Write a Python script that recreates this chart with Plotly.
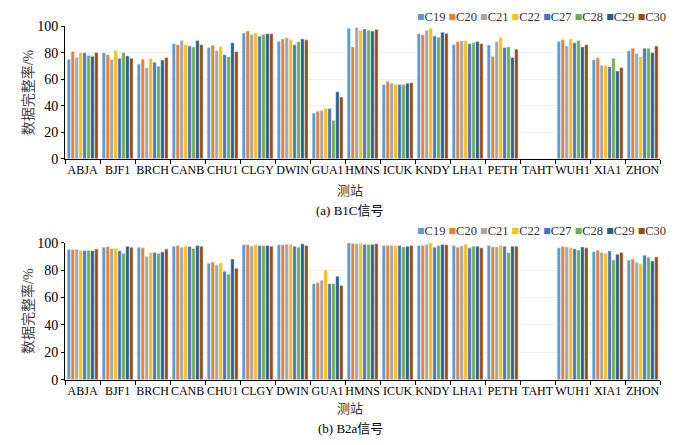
import plotly.graph_objects as go

# Data
stations = ["ABJA", "BJF1", "BRCH", "CANB", "CHU1", "CLGY", "DWIN", "GUA1", "HMNS", "ICUK",
            "KNDY", "LHA1", "PETH", "TAHT", "WUH1", "XIA1", "ZHON"]
satellites = ["C19", "C20", "C21", "C22", "C27", "C28", "C29", "C30"]

# B1C completeness (%), one list per satellite, in station order
b1c = {
    "C19": [75.2, 80.0, 71.6, 86.9, 84.0, 94.9, 88.6, 34.5, 98.5, 56.0, 94.4, 86.2, 85.9, 0, 88.6, 74.8, 81.6],
    "C20": [81.0, 78.6, 75.2, 86.2, 85.7, 96.4, 90.5, 35.9, 84.5, 58.3, 93.7, 88.6, 77.4, 0, 89.8, 76.2, 83.5],
    "C21": [76.5, 75.0, 68.7, 89.3, 81.6, 93.7, 91.3, 36.4, 99.0, 57.0, 96.8, 89.0, 88.6, 0, 85.2, 70.4, 79.4],
    "C22": [80.0, 81.8, 75.7, 86.2, 84.7, 94.9, 89.8, 38.1, 96.8, 56.3, 98.5, 89.3, 91.5, 0, 90.5, 70.4, 77.0],
    "C27": [80.0, 76.0, 72.8, 85.2, 78.6, 92.5, 86.2, 37.9, 98.0, 56.0, 92.7, 86.9, 84.0, 0, 87.6, 69.4, 83.5],
    "C28": [78.0, 80.3, 69.9, 84.5, 77.0, 93.9, 88.3, 29.1, 97.0, 56.0, 91.7, 87.6, 84.5, 0, 89.3, 76.0, 83.5],
    "C29": [77.4, 77.7, 74.5, 89.3, 87.6, 94.4, 90.5, 50.7, 96.4, 57.0, 95.6, 88.6, 76.5, 0, 84.5, 66.3, 80.1],
    "C30": [80.3, 76.0, 76.5, 86.2, 81.0, 94.4, 89.8, 46.6, 97.6, 57.5, 94.7, 86.9, 82.8, 0, 86.2, 68.9, 85.2],
}

# B2a completeness (%)
b2a = {
    "C19": [95.0, 96.7, 96.7, 97.4, 84.9, 98.4, 98.4, 70.1, 99.8, 97.9, 97.9, 97.9, 97.9, 0, 96.2, 93.4, 87.3],
    "C20": [95.0, 97.2, 96.2, 97.9, 85.9, 98.4, 98.4, 70.8, 99.3, 97.9, 97.9, 96.7, 96.9, 0, 97.2, 94.4, 88.0],
    "C21": [95.0, 95.8, 90.1, 96.7, 83.8, 97.6, 98.8, 72.5, 99.1, 97.9, 98.6, 97.6, 96.9, 0, 96.9, 92.9, 85.6],
    "C22": [94.1, 95.8, 92.9, 97.6, 85.2, 98.4, 98.6, 80.0, 99.3, 97.9, 99.8, 98.8, 98.1, 0, 96.2, 92.2, 84.5],
    "C27": [94.1, 94.1, 92.9, 97.2, 79.1, 97.9, 97.4, 70.1, 98.6, 97.9, 96.7, 96.2, 97.4, 0, 95.5, 93.9, 90.8],
    "C28": [94.4, 92.2, 92.2, 95.8, 76.9, 97.9, 96.7, 70.1, 98.6, 96.9, 97.9, 97.4, 92.7, 0, 94.6, 87.3, 89.4],
    "C29": [94.1, 97.4, 93.2, 97.9, 88.0, 97.9, 99.1, 75.5, 98.6, 97.4, 98.6, 97.4, 97.4, 0, 96.9, 91.5, 86.6],
    "C30": [95.3, 96.7, 95.3, 97.4, 81.4, 97.4, 97.9, 68.7, 99.1, 97.9, 98.4, 96.2, 97.4, 0, 96.2, 92.9, 89.6],
}

colors = ["#5B9BD5", "#ED7D31", "#A5A5A5", "#FFC000", "#4472C4", "#70AD47", "#255E91", "#9E480E"]

FONT = "'Liberation Serif', 'Noto Sans CJK SC', serif"

fig = go.Figure()
for sat, c in zip(satellites, colors):
    fig.add_trace(go.Bar(x=stations, y=b1c[sat], name=sat, marker_color=c,
                         xaxis="x", yaxis="y", showlegend=False))
for sat, c in zip(satellites, colors):
    fig.add_trace(go.Bar(x=stations, y=b2a[sat], name=sat, marker_color=c,
                         xaxis="x2", yaxis="y2", showlegend=False))

xax = dict(type="category", tickson="boundaries", ticks="outside", ticklen=4, tickangle=0,
           showline=True, linecolor="black", linewidth=1, tickcolor="black",
           showgrid=False, tickfont=dict(size=12, color="black", family=FONT),
           domain=[0.093, 0.943])
yax = dict(range=[0, 100], dtick=20, ticks="outside", ticklen=3,
           showline=True, linecolor="black", linewidth=1, tickcolor="black",
           showgrid=True, gridcolor="#f0f0f0", zeroline=False,
           tickfont=dict(size=14, color="black", family=FONT),
           title=dict(text="数据完整率/%", font=dict(size=14, color="#444"), standoff=0))

# compact legend drawn as a line of text with coloured squares
legend_text = "".join(
    f"<span style='color:{c}'>■</span>{s} " for s, c in zip(satellites, colors)
).strip()


def label(text, ypx, size=13, color="black", x=0.5, xanchor="center"):
    return dict(text=text, x=x, y=1 - ypx / 445, xref="paper", yref="paper", showarrow=False,
                xanchor=xanchor, yanchor="middle", font=dict(size=size, color=color, family=FONT))


fig.update_layout(
    width=700, height=445,
    margin=dict(l=0, r=0, t=0, b=0),
    paper_bgcolor="white", plot_bgcolor="white",
    font=dict(family=FONT, color="black"),
    barmode="group", bargap=0.1, bargroupgap=0.15,
    xaxis=dict(xax, anchor="y"),
    yaxis=dict(yax, domain=[0.647, 0.955], anchor="x"),
    xaxis2=dict(xax, anchor="y2"),
    yaxis2=dict(yax, domain=[0.133, 0.452], anchor="x2"),
    annotations=[
        label(legend_text, 10, size=12.5, color="#333", x=668 / 700, xanchor="right"),
        label(legend_text, 232, size=12.5, color="#333", x=668 / 700, xanchor="right"),
        label("测站", 190, color="#333"),
        label("(a) B1C信号", 211),
        label("测站", 416, color="#333"),
        label("(b) B2a信号", 436),
    ],
)

# drop the page's default body margin so the 700x445 figure sits at the window origin
fig.write_html("out.html", config={"displayModeBar": False},
               post_script="document.body.style.margin='0';")
